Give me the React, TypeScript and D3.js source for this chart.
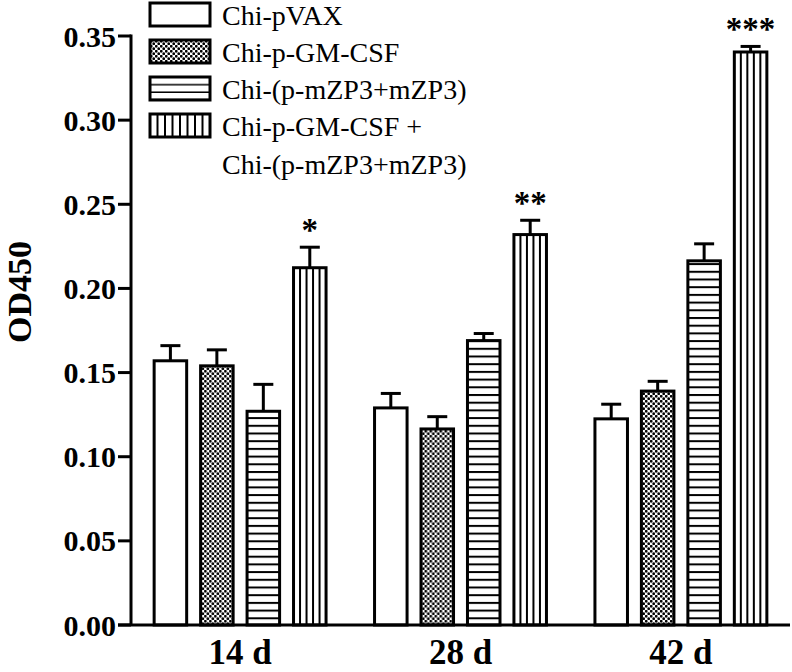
import React from 'react';
import * as d3 from 'd3';

const groups = ['14 d', '28 d', '42 d'];
const seriesNames = ['Chi-pVAX', 'Chi-p-GM-CSF', 'Chi-(p-mZP3+mZP3)', 'Chi-p-GM-CSF +'];
const seriesNames2 = ['', '', '', 'Chi-(p-mZP3+mZP3)'];
const pVAX = [0.157, 0.129, 0.1225];
const pGMCSF = [0.154, 0.1165, 0.139];
const mZP3 = [0.127, 0.169, 0.2164];
const combo = [0.2123, 0.232, 0.3405];
const pVAXErr = [0.009, 0.0086, 0.0087];
const pGMCSFErr = [0.0095, 0.0073, 0.0058];
const mZP3Err = [0.016, 0.0042, 0.0101];
const comboErr = [0.0122, 0.0085, 0.0033];
const significance = ['*', '**', '***'];
const yTicks = [0, 0.05, 0.1, 0.15, 0.2, 0.25, 0.3, 0.35];
const fills = ['white', 'url(#dots)', 'url(#hlines)', 'vlines'];

const W = 792, H = 672;
const FONT = '"Liberation Serif", "Times New Roman", serif';

export default function App() {
  const values = [pVAX, pGMCSF, mZP3, combo];
  const errs = [pVAXErr, pGMCSFErr, mZP3Err, comboErr];
  const y = d3.scaleLinear().domain([0, 0.35]).range([625, 36]);
  const x0 = d3.scaleBand<string>().domain(groups).range([131, 790]).paddingInner(0.22).paddingOuter(0.105);
  const x1 = d3.scaleBand<number>().domain([0, 1, 2, 3]).range([0, x0.bandwidth()]).paddingInner(0.3).paddingOuter(0);
  const bw = x1.bandwidth();
  const legendRows = [0, 1, 2, 3];
  const legendTop = d3.scaleLinear().domain([0, 3]).range([3, 114]);

  return (
    <svg width={W} height={H} style={{ position: 'absolute', left: 0, top: 0, background: 'white' }}>
      <defs>
        <pattern id="dots" patternUnits="userSpaceOnUse" width={5} height={5}>
          <rect width={5} height={5} fill="white" />
          <circle cx={1.25} cy={1.25} r={1.4} fill="black" />
          <circle cx={3.75} cy={3.75} r={1.4} fill="black" />
        </pattern>
        <pattern id="hlines" patternUnits="userSpaceOnUse" width={10} height={7.7} y={625}>
          <rect width={10} height={7.7} fill="white" />
          <rect y={0} width={10} height={2} fill="black" />
        </pattern>
        <pattern id="hlinesLeg" patternUnits="userSpaceOnUse" width={10} height={7.5} y={legendTop(2) + 1}>
          <rect width={10} height={7.5} fill="white" />
          <rect y={6} width={10} height={2} fill="black" />
        </pattern>
      </defs>

      {/* bars */}
      {groups.map((g, gi) => (
        <g key={g} transform={`translate(${x0(g)},0)`}>
          {values.map((vals, si) => {
            const bx = x1(si)!;
            const top = y(vals[gi]);
            const h = y(0) - top;
            const capY = y(vals[gi] + errs[si][gi]);
            const cx = bx + bw / 2;
            return (
              <g key={si}>
                <line x1={cx} x2={cx} y1={top} y2={capY} stroke="black" strokeWidth={3} />
                <line x1={cx - 10} x2={cx + 10} y1={capY} y2={capY} stroke="black" strokeWidth={3} />
                <rect x={bx} y={top} width={bw} height={h} fill={si === 3 ? 'white' : fills[si]} stroke="black" strokeWidth={3} />
                {si === 3 &&
                  [1, 2, 3, 4].map((k) => (
                    <line key={k} x1={bx + (bw * k) / 5} x2={bx + (bw * k) / 5} y1={top} y2={y(0)} stroke="black" strokeWidth={2} />
                  ))}
                {si === 3 && (
                  <text x={cx} y={capY - 6} textAnchor="middle" fontFamily={FONT} fontWeight="bold" fontSize={33} fill="black">
                    {significance[gi]}
                  </text>
                )}
              </g>
            );
          })}
        </g>
      ))}

      {/* y axis */}
      <line x1={131} x2={131} y1={y(0.35) - 1.5} y2={y(0)} stroke="black" strokeWidth={3} />
      {yTicks.map((t) => (
        <g key={t}>
          <line x1={118} x2={131} y1={y(t)} y2={y(t)} stroke="black" strokeWidth={3} />
          <text x={116} y={y(t)} dy="0.35em" textAnchor="end" fontFamily={FONT} fontWeight="bold" fontSize={30} fill="black">
            {d3.format('.2f')(t)}
          </text>
        </g>
      ))}
      {/* x axis */}
      <line x1={118} x2={790} y1={y(0)} y2={y(0)} stroke="black" strokeWidth={3} />
      {groups.map((g) => (
        <text key={g} x={x0(g)! + x0.bandwidth() / 2} y={664} textAnchor="middle" fontFamily={FONT} fontWeight="bold" fontSize={35} fill="black">
          {g}
        </text>
      ))}
      <text transform={`translate(31,292) rotate(-90)`} textAnchor="middle" fontFamily={FONT} fontWeight="bold" fontSize={34} fill="black">
        OD450
      </text>

      {/* legend */}
      {legendRows.map((i) => {
        const ty = legendTop(i);
        return (
          <g key={i}>
            <rect x={150} y={ty} width={60} height={23} fill={i === 2 ? 'url(#hlinesLeg)' : i === 3 ? 'white' : fills[i]} stroke="black" strokeWidth={3} />
            {i === 3 &&
              [1, 2, 3, 4, 5, 6, 7].map((k) => (
                <line key={k} x1={150 + (60 * k) / 8} x2={150 + (60 * k) / 8} y1={ty} y2={ty + 23} stroke="black" strokeWidth={2} />
              ))}
            <text x={222} y={ty + 22} fontFamily={FONT} fontSize={28} fill="black">
              {seriesNames[i]}
            </text>
            {seriesNames2[i] && (
              <text x={222} y={ty + 60} fontFamily={FONT} fontSize={28} fill="black">
                {seriesNames2[i]}
              </text>
            )}
          </g>
        );
      })}
    </svg>
  );
}
